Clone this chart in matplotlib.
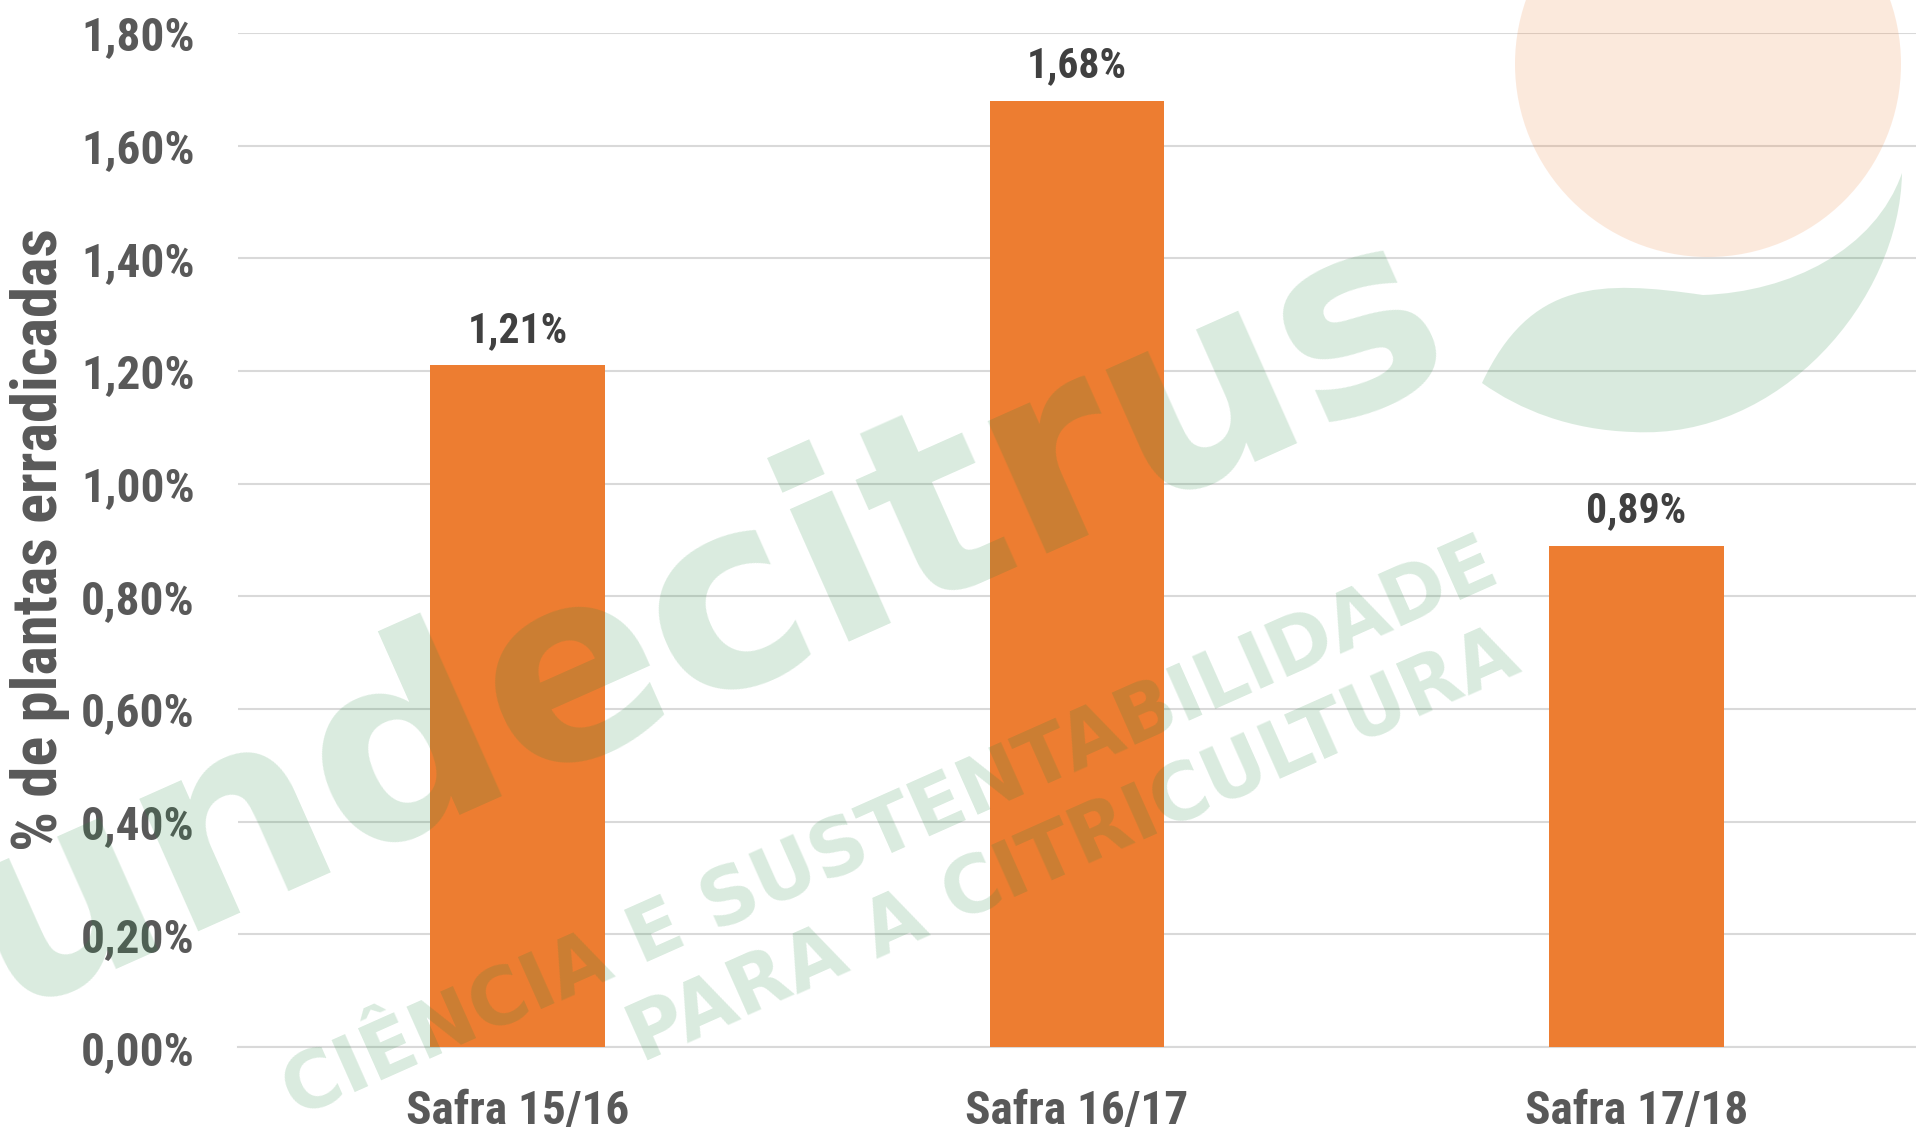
import matplotlib.pyplot as plt
from matplotlib.patches import Circle, PathPatch
from matplotlib.path import Path
from matplotlib.transforms import IdentityTransform
from matplotlib import font_manager

safras = ["Safra 15/16", "Safra 16/17", "Safra 17/18"]
erradicadas = [1.21, 1.68, 0.89]
yticks = [0.0, 0.2, 0.4, 0.6, 0.8, 1.0, 1.2, 1.4, 1.6, 1.8]

# fonte estreita (tipo Arial Narrow) se houver
fl = font_manager.fontManager.ttflist
names = {f.name for f in fl}
stretch = "normal"
fam = ["DejaVu Sans"]
for n in ["Liberation Sans Narrow", "Roboto Condensed", "Open Sans Condensed"]:
    if n in names:
        fam = [n]
        break
else:
    if any(f.name == "DejaVu Sans" and f.stretch == "condensed" for f in fl):
        stretch = "condensed"
plt.rcParams["font.family"] = fam + ["DejaVu Sans"]
plt.rcParams["font.weight"] = "bold"
plt.rcParams["font.stretch"] = stretch


def pct(v):
    return ("%.2f%%" % v).replace(".", ",")


H = 1136
fig = plt.figure(figsize=(19.16, 11.36), dpi=100)
ax = fig.add_axes([0.1242, 0.0783, 0.8758, 0.8927])

x = range(len(safras))
bars = ax.bar(x, erradicadas, width=0.312, color="#ED7D31", zorder=3)
for b, v in zip(bars, erradicadas):
    ax.text(b.get_x() + b.get_width() / 2, v + 0.025, pct(v), ha="center", va="bottom",
            fontsize=30, color="#404040", fontweight="bold")

ax.set_xlim(-0.5, 2.5)
ax.set_ylim(0, 1.8)
ax.set_yticks(yticks)
ax.set_yticklabels([pct(t) for t in yticks])
ax.set_xticks(list(x))
ax.set_xticklabels(safras)
ax.tick_params(axis="y", labelsize=34, colors="#595959", length=0, pad=31)
ax.tick_params(axis="x", labelsize=34, colors="#595959", length=0, pad=30)
ax.yaxis.grid(True, color="#d9d9d9", linewidth=1.5, zorder=0)
ax.set_axisbelow(True)
for s in ["top", "right", "left"]:
    ax.spines[s].set_visible(False)
ax.spines["bottom"].set_color("#d9d9d9")
ax.spines["bottom"].set_linewidth(1.5)
ax.set_ylabel("% de plantas erradicadas", fontsize=45, color="#595959",
              fontweight="bold")
ax.yaxis.set_label_coords(-0.100, 0.5)

# marca d'agua (logo) por cima do grafico, transparente
fig.patches.append(Circle((17.08, 10.72), 1.93, transform=fig.dpi_scale_trans,
                          facecolor="#ED7D31", alpha=0.17, edgecolor="none", zorder=10))
leaf = [(1482, 383), (1530, 280), (1600, 280), (1703, 295),
        (1790, 292), (1875, 250), (1902, 173),
        (1900, 300), (1780, 440), (1633, 432),
        (1570, 430), (1520, 410), (1482, 383)]
codes = [Path.MOVETO] + [Path.CURVE4] * 12
leaf_path = Path([(px, H - py) for px, py in leaf], codes)
fig.patches.append(PathPatch(leaf_path, transform=IdentityTransform(), facecolor="#1f883e",
                             alpha=0.17, edgecolor="none", zorder=10))
wm = dict(color="#1f883e", alpha=0.17, rotation=24, ha="center", va="center",
          zorder=10, family=["DejaVu Sans"], fontstretch="normal", fontweight="bold")
fig.text(0.34, 0.43, "fundecitrus", fontsize=190, **wm)
fig.text(0.465, 0.27, "CIÊNCIA E SUSTENTABILIDADE", fontsize=56, **wm)
fig.text(0.56, 0.255, "PARA A CITRICULTURA", fontsize=56, **wm)

fig.savefig("out.png", dpi=100)
